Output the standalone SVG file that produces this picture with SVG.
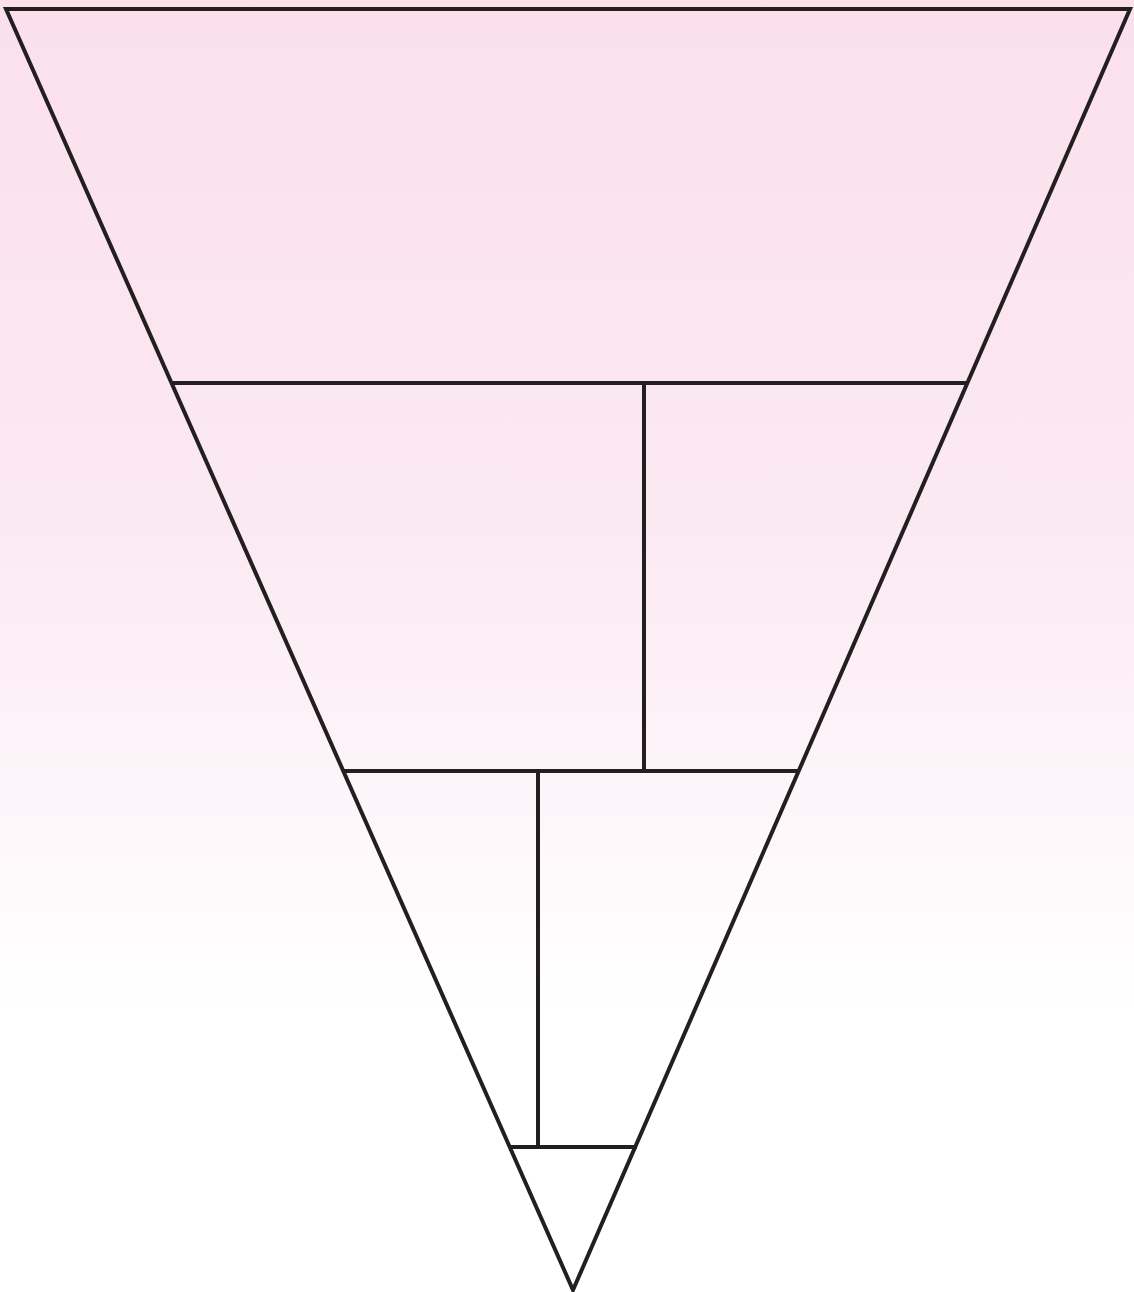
<svg xmlns="http://www.w3.org/2000/svg" width="1134" height="1292" viewBox="0 0 1134 1292">
<defs>
<linearGradient id="bg" x1="0" y1="0" x2="0" y2="1292" gradientUnits="userSpaceOnUse">
<stop offset="0" stop-color="#fbe0ec"/>
<stop offset="0.4" stop-color="#fbe9f2"/>
<stop offset="0.78" stop-color="#ffffff"/>
<stop offset="1" stop-color="#ffffff"/>
</linearGradient>
<style>.ln{stroke:#231f20;stroke-width:4;fill:none;stroke-linejoin:miter}</style>
</defs>
<rect x="0" y="0" width="1134" height="1292" fill="url(#bg)"/>
<g id="triangle">
<polygon class="ln" points="6,9 1130,9 573,1290"/>
</g>
<g id="connectors">
<line class="ln" x1="171" y1="383" x2="967" y2="383"/>
<line class="ln" x1="343" y1="771" x2="799" y2="771"/>
<line class="ln" x1="509" y1="1147" x2="637" y2="1147"/>
<line class="ln" x1="644" y1="383" x2="644" y2="771"/>
<line class="ln" x1="538" y1="771" x2="538" y2="1147"/>
</g>
</svg>
